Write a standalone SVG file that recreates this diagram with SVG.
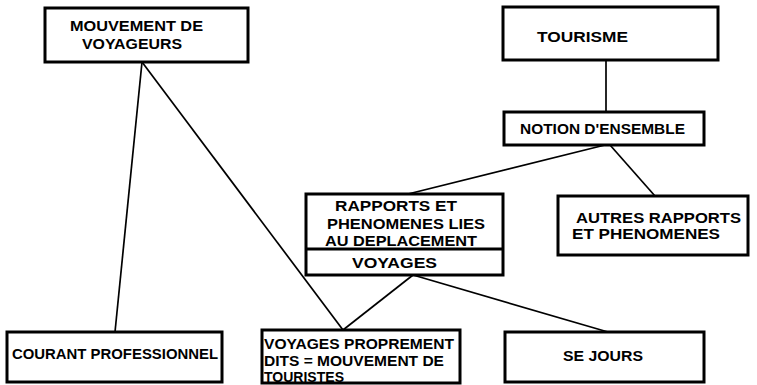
<svg xmlns="http://www.w3.org/2000/svg" width="757" height="385" viewBox="0 0 757 385">
<style>
.box{fill:#fff;stroke:#000;stroke-width:3}
.ln{stroke:#000;stroke-width:1.7;fill:none}
text{font-family:"Liberation Sans","DejaVu Sans",sans-serif;font-weight:bold;font-size:15px;fill:#000}
</style>
<rect width="757" height="385" fill="#fff"/>
<g id="connectors">
<line class="ln" x1="606" y1="60" x2="606" y2="112"/>
<line class="ln" x1="605" y1="145" x2="408" y2="194"/>
<line class="ln" x1="610" y1="145" x2="655" y2="196"/>
<line class="ln" x1="142" y1="62" x2="115" y2="332"/>
<line class="ln" x1="142" y1="62" x2="343" y2="330"/>
<line class="ln" x1="413" y1="275" x2="343" y2="330"/>
<line class="ln" x1="413" y1="275" x2="608" y2="332"/>
</g>
<g id="mouvement">
<rect class="box" x="45" y="8" width="203" height="54"/>
<text x="70" y="31" textLength="133" lengthAdjust="spacingAndGlyphs">MOUVEMENT DE</text>
<text x="82" y="49" textLength="100" lengthAdjust="spacingAndGlyphs">VOYAGEURS</text>
</g>
<g id="tourisme">
<rect class="box" x="503" y="7" width="215" height="53"/>
<text x="537" y="42" textLength="91" lengthAdjust="spacingAndGlyphs">TOURISME</text>
</g>
<g id="notion">
<rect class="box" x="504" y="112" width="200" height="33"/>
<text x="520" y="134" textLength="165" lengthAdjust="spacingAndGlyphs">NOTION D'ENSEMBLE</text>
</g>
<g id="rapports">
<rect class="box" x="306" y="194" width="197" height="81"/>
<line class="box" x1="306" y1="249" x2="503" y2="249"/>
<text x="335" y="211" textLength="122" lengthAdjust="spacingAndGlyphs">RAPPORTS  ET</text>
<text x="327" y="229" textLength="158" lengthAdjust="spacingAndGlyphs">PHENOMENES  LIES</text>
<text x="325" y="246" textLength="152" lengthAdjust="spacingAndGlyphs">AU DEPLACEMENT</text>
<text x="352" y="268" textLength="85" lengthAdjust="spacingAndGlyphs">VOYAGES</text>
</g>
<g id="autres">
<rect class="box" x="558" y="196" width="190" height="59"/>
<text x="576" y="223" textLength="165" lengthAdjust="spacingAndGlyphs">AUTRES  RAPPORTS</text>
<text x="572" y="239" textLength="148" lengthAdjust="spacingAndGlyphs">ET  PHENOMENES</text>
</g>
<g id="courant">
<rect class="box" x="7" y="332" width="215" height="50"/>
<text x="12" y="359" textLength="206" lengthAdjust="spacingAndGlyphs">COURANT PROFESSIONNEL</text>
</g>
<g id="voyages-propres">
<rect class="box" x="262" y="330" width="198" height="53"/>
<text x="264" y="349" textLength="190" lengthAdjust="spacingAndGlyphs">VOYAGES PROPREMENT</text>
<text x="264" y="366" textLength="180" lengthAdjust="spacingAndGlyphs">DITS = MOUVEMENT DE</text>
<text x="264" y="382" textLength="80" lengthAdjust="spacingAndGlyphs">TOURISTES</text>
</g>
<g id="sejours">
<rect class="box" x="505" y="332" width="199" height="50"/>
<text x="563" y="361" textLength="80" lengthAdjust="spacingAndGlyphs">SE JOURS</text>
</g>
</svg>
